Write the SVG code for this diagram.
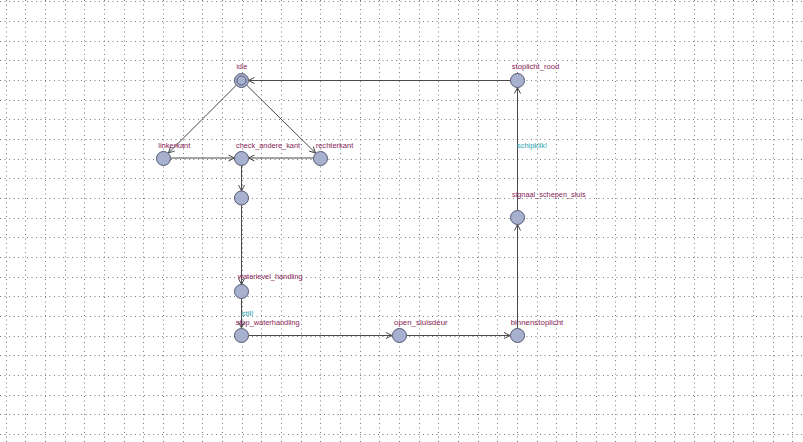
<svg xmlns="http://www.w3.org/2000/svg" width="803" height="442" viewBox="0 0 803 442">
<defs>
<style>
.grid{stroke:#7a7a7a;stroke-width:1;stroke-dasharray:1 3.5;fill:none}
.edge{stroke:#4a4a4a;stroke-width:1;fill:none;marker-end:url(#arr)}
.node{fill:#a7b0cf;stroke:#525a72;stroke-width:1}
.name{font-family:"Liberation Sans",Arial,sans-serif;font-size:8px;fill:#8a1d57}
.sync{font-family:"Liberation Sans",Arial,sans-serif;font-size:8px;fill:#2aa3ad}
</style>
<marker id="arr" viewBox="-8 -5 10 10" markerWidth="10" markerHeight="10" refX="0" refY="0" orient="auto" markerUnits="userSpaceOnUse">
<path d="M-6,-3 L0,0 L-6,3" fill="none" stroke="#4a4a4a" stroke-width="1"/>
</marker>
</defs>
<rect width="803" height="442" fill="#ffffff"/>
<g id="grid">
<path class="grid" d="M6.5 0V442M25.5 0V442M45.5 0V442M65.5 0V442M84.5 0V442M104.5 0V442M124.5 0V442M143.5 0V442M163.5 0V442M183.5 0V442M202.5 0V442M222.5 0V442M242.5 0V442M261.5 0V442M281.5 0V442M301.5 0V442M320.5 0V442M340.5 0V442M360.5 0V442M379.5 0V442M399.5 0V442M419.5 0V442M438.5 0V442M458.5 0V442M478.5 0V442M497.5 0V442M517.5 0V442M537.5 0V442M556.5 0V442M576.5 0V442M596.5 0V442M615.5 0V442M635.5 0V442M655.5 0V442M674.5 0V442M694.5 0V442M714.5 0V442M733.5 0V442M753.5 0V442M773.5 0V442M792.5 0V442"/>
<path class="grid" d="M0 1.5H803M0 21.5H803M0 41.5H803M0 60.5H803M0 80.5H803M0 100.5H803M0 119.5H803M0 139.5H803M0 159.5H803M0 178.5H803M0 198.5H803M0 218.5H803M0 237.5H803M0 257.5H803M0 277.5H803M0 296.5H803M0 316.5H803M0 336.5H803M0 355.5H803M0 375.5H803M0 395.5H803M0 414.5H803M0 434.5H803"/>
</g>
<g id="connectors">
<line class="edge" x1="236.5" y1="85" x2="168.5" y2="153"/>
<line class="edge" x1="246.5" y1="85" x2="315.5" y2="153"/>
<line class="edge" x1="170.5" y1="158" x2="234.5" y2="158"/>
<line class="edge" x1="313.5" y1="158" x2="248.5" y2="158"/>
<line class="edge" x1="241.5" y1="165" x2="241.5" y2="191"/>
<line class="edge" x1="241.5" y1="205" x2="241.5" y2="284.5"/>
<line class="edge" x1="241.5" y1="298.5" x2="241.5" y2="328"/>
<line class="edge" x1="248.5" y1="335.5" x2="392" y2="335.5"/>
<line class="edge" x1="406.5" y1="335.5" x2="510" y2="335.5"/>
<line class="edge" x1="517.5" y1="328.5" x2="517.5" y2="224.5"/>
<line class="edge" x1="517.5" y1="210" x2="517.5" y2="87.5"/>
<line class="edge" x1="510.5" y1="80.5" x2="248.5" y2="80.5"/>
<text class="sync" x="241.5" y="315.5" font-size="7" style="font-size:7px" textLength="12" lengthAdjust="spacingAndGlyphs">stil!</text>
<text class="sync" x="517" y="148" textLength="30" lengthAdjust="spacingAndGlyphs">schipklik!</text>
</g>
<g id="node-idle">
<circle class="node" cx="241.5" cy="80.5" r="7"/>
<circle class="node" cx="241.5" cy="80.5" r="4.5"/>
<text class="name" x="236.5" y="69" textLength="11" lengthAdjust="spacingAndGlyphs">idle</text>
</g>
<g id="node-linkerkant">
<circle class="node" cx="163.5" cy="158.5" r="7"/>
<text class="name" x="158.3" y="148" textLength="32" lengthAdjust="spacingAndGlyphs">linkerkant</text>
</g>
<g id="node-check_andere_kant">
<circle class="node" cx="241.5" cy="158.5" r="7"/>
<text class="name" x="236" y="148" textLength="64" lengthAdjust="spacingAndGlyphs">check_andere_kant</text>
</g>
<g id="node-rechterkant">
<circle class="node" cx="320.5" cy="158.5" r="7"/>
<text class="name" x="315.7" y="148" textLength="37.6" lengthAdjust="spacingAndGlyphs">rechterkant</text>
</g>
<g id="node-unnamed">
<circle class="node" cx="241.5" cy="198" r="7"/>
</g>
<g id="node-waterlevel_handling">
<circle class="node" cx="241.5" cy="291.5" r="7"/>
<text class="name" x="237.7" y="279" textLength="65" lengthAdjust="spacingAndGlyphs">waterlevel_handling</text>
</g>
<g id="node-stop_waterhandling">
<circle class="node" cx="241.5" cy="335.5" r="7"/>
<text class="name" x="235.7" y="325" textLength="64" lengthAdjust="spacingAndGlyphs">stop_waterhandling</text>
</g>
<g id="node-open_sluisdeur">
<circle class="node" cx="399.5" cy="335.5" r="7"/>
<text class="name" x="394" y="325" textLength="53.7" lengthAdjust="spacingAndGlyphs">open_sluisdeur</text>
</g>
<g id="node-binnenstoplicht">
<circle class="node" cx="517.5" cy="335.5" r="7"/>
<text class="name" x="510.7" y="325" textLength="52.6" lengthAdjust="spacingAndGlyphs">binnenstoplicht</text>
</g>
<g id="node-signaal_schepen_sluis">
<circle class="node" cx="517.5" cy="217.5" r="7"/>
<text class="name" x="512" y="197" textLength="73.7" lengthAdjust="spacingAndGlyphs">signaal_schepen_sluis</text>
</g>
<g id="node-stoplicht_rood">
<circle class="node" cx="517.5" cy="80.5" r="7"/>
<text class="name" x="511.7" y="69" textLength="47.6" lengthAdjust="spacingAndGlyphs">stoplicht_rood</text>
</g>
</svg>
